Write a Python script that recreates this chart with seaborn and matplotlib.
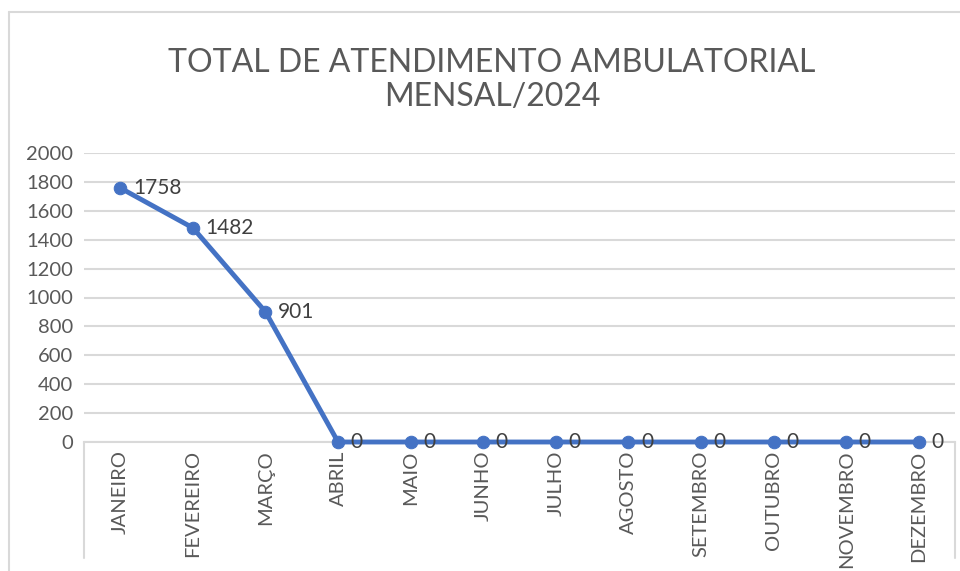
import pandas as pd
import matplotlib.pyplot as plt
import seaborn as sns
from matplotlib.lines import Line2D

meses = ["JANEIRO", "FEVEREIRO", "MARÇO", "ABRIL", "MAIO", "JUNHO",
         "JULHO", "AGOSTO", "SETEMBRO", "OUTUBRO", "NOVEMBRO", "DEZEMBRO"]
atendimentos = [1758, 1482, 901, 0, 0, 0, 0, 0, 0, 0, 0, 0]
y_ticks = [0, 200, 400, 600, 800, 1000, 1200, 1400, 1600, 1800, 2000]

df = pd.DataFrame({"pos": range(len(meses)), "mes": meses, "total": atendimentos})

sns.set_theme(style="white")
plt.rcParams['font.family'] = ['Lato', 'DejaVu Sans']

azul = "#4472C4"
cinza_txt = "#595959"
cinza_lin = "#d9d9d9"

fig = plt.figure(figsize=(9.6, 5.71), dpi=100)
ax = fig.add_axes([84 / 960, 1 - 442 / 571, 871 / 960, 289 / 571])

sns.lineplot(data=df, x="pos", y="total", ax=ax, color=azul, linewidth=3.5,
             marker="o", markersize=9, markeredgecolor=azul)
for ln in ax.lines:
    ln.set_clip_on(False)
    ln.set_zorder(5)

ax.set_xlim(-0.5, len(meses) - 0.5)
ax.set_ylim(0, 2000)
ax.set_yticks(y_ticks)
ax.set_yticklabels([str(v) for v in y_ticks], fontsize=14.5, color=cinza_txt)
ax.set_xticks(df["pos"])
ax.set_xticklabels(meses, rotation=90, fontsize=14.5, color=cinza_txt)
ax.tick_params(axis="both", length=0, pad=8)
ax.tick_params(axis="x", pad=6)
ax.set_xlabel("")
ax.set_ylabel("")

ax.grid(axis="y", color=cinza_lin, linewidth=1.5)
ax.set_axisbelow(True)
for s in ["top", "right", "left"]:
    ax.spines[s].set_visible(False)
ax.spines["bottom"].set_color(cinza_lin)
ax.spines["bottom"].set_linewidth(1.5)

# rótulos de dados
for p, v in zip(df["pos"], df["total"]):
    ax.annotate(str(v), (p, v), xytext=(9, 0), textcoords="offset points",
                ha="left", va="center", fontsize=15, color="#404040",
                annotation_clip=False, zorder=6)

# linhas verticais nas extremidades do eixo de categorias
for xp in [84 / 960, 955 / 960]:
    fig.add_artist(Line2D([xp, xp], [1 - 442 / 571, 1 - 558 / 571],
                          color=cinza_lin, linewidth=1.5))

# borda do gráfico
fig.add_artist(Line2D([9 / 960, 9 / 960], [0, 1 - 12 / 571], color=cinza_lin, linewidth=1.5))
fig.add_artist(Line2D([9 / 960, 1], [1 - 12 / 571, 1 - 12 / 571], color=cinza_lin, linewidth=1.5))

fig.text(492 / 960, 1 - 80 / 571, "TOTAL DE ATENDIMENTO AMBULATORIAL\nMENSAL/2024",
         ha="center", va="center", fontsize=23, color=cinza_txt, linespacing=1.15)

fig.savefig("out.png", dpi=100)
